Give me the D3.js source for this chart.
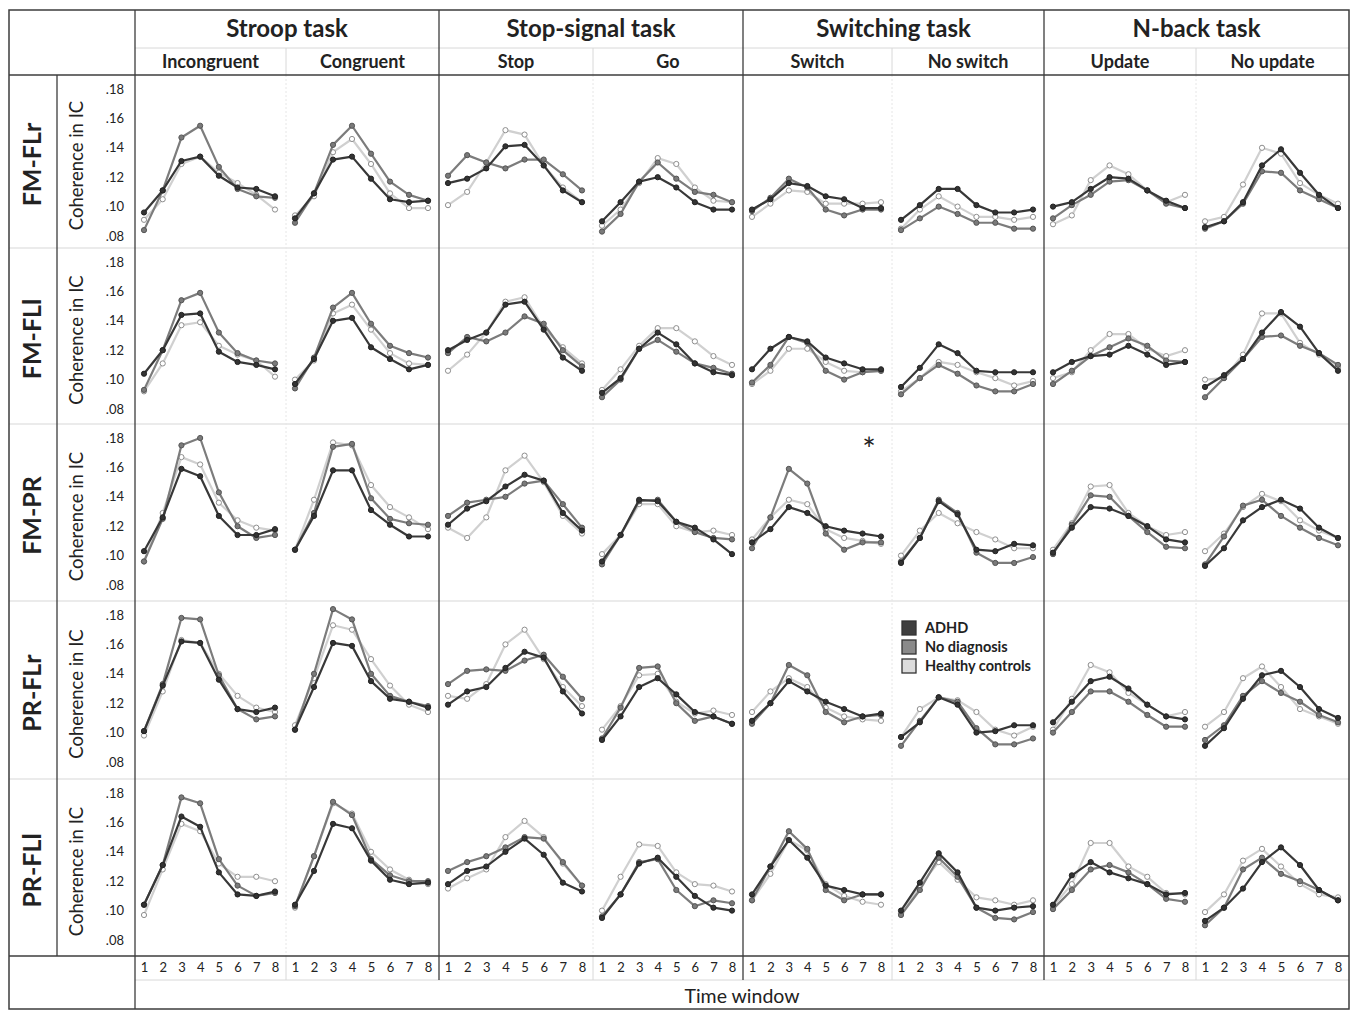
<!DOCTYPE html>
<html>
<head>
<meta charset="utf-8">
<script src="https://cdn.jsdelivr.net/npm/d3@7"></script>
<style>
  body { margin: 0; background: #fff; }
  text { font-family: Lato, "Noto Sans", sans-serif; fill: #222; }
</style>
</head>
<body>
<svg id="chart"></svg>
<script>
// labels
var tasks = ["Stroop task", "Stop-signal task", "Switching task", "N-back task"];
var conditions = ["Incongruent", "Congruent", "Stop", "Go", "Switch", "No switch", "Update", "No update"];
var connections = ["FM-FLr", "FM-FLl", "FM-PR", "PR-FLr", "PR-FLl"];
var groups = ["ADHD", "No diagnosis", "Healthy controls"];
var timeWindows = [1, 2, 3, 4, 5, 6, 7, 8];
var yTicks = [0.08, 0.10, 0.12, 0.14, 0.16, 0.18];

// coherence values, one array per condition (8 time windows)
var adhdFMFLr = [
  [.096,.111,.131,.134,.121,.113,.112,.107],[.092,.109,.132,.134,.119,.105,.103,.104],
  [.116,.119,.126,.141,.142,.128,.111,.103],[.090,.103,.117,.120,.113,.103,.098,.098],
  [.098,.105,.116,.114,.107,.105,.099,.099],[.091,.101,.112,.112,.101,.096,.096,.098],
  [.100,.103,.112,.120,.119,.111,.104,.099],[.086,.090,.103,.128,.139,.123,.108,.099]];
var ndFMFLr = [
  [.084,.111,.147,.155,.127,.112,.107,.106],[.089,.109,.142,.155,.136,.117,.108,.104],
  [.121,.135,.130,.126,.132,.132,.122,.111],[.083,.095,.117,.130,.119,.110,.108,.103],
  [.097,.106,.119,.113,.098,.094,.098,.098],[.084,.092,.100,.095,.089,.089,.085,.085],
  [.092,.101,.108,.117,.118,.111,.102,.099],[.085,.090,.102,.124,.123,.111,.105,.099]];
var hcFMFLr = [
  [.091,.105,.129,.134,.123,.116,.108,.098],[.094,.107,.137,.146,.129,.109,.099,.099],
  [.101,.110,.130,.152,.149,.128,.113,.103],[.087,.098,.116,.133,.129,.113,.104,.103],
  [.093,.102,.111,.110,.102,.102,.102,.103],[.085,.098,.107,.100,.093,.093,.091,.093],
  [.088,.094,.118,.128,.122,.111,.103,.108],[.090,.093,.115,.140,.136,.116,.108,.102]];

var adhdFMFLl = [
  [.104,.120,.144,.145,.119,.112,.110,.107],[.097,.114,.140,.142,.122,.114,.107,.110],
  [.120,.127,.132,.151,.153,.134,.115,.106],[.091,.101,.121,.132,.124,.111,.105,.103],
  [.107,.121,.129,.126,.115,.111,.107,.107],[.095,.108,.124,.118,.106,.105,.105,.105],
  [.105,.112,.116,.117,.123,.117,.110,.112],[.095,.103,.114,.132,.146,.136,.118,.106]];
var ndFMFLl = [
  [.093,.120,.154,.159,.132,.118,.113,.111],[.094,.115,.149,.159,.138,.123,.118,.115],
  [.118,.129,.126,.132,.143,.138,.120,.109],[.088,.100,.121,.127,.119,.111,.108,.104],
  [.098,.110,.129,.125,.106,.100,.105,.106],[.090,.101,.110,.104,.096,.092,.092,.097],
  [.097,.106,.116,.122,.128,.123,.113,.112],[.088,.101,.114,.129,.130,.123,.118,.110]];
var hcFMFLl = [
  [.092,.111,.137,.139,.123,.117,.113,.102],[.100,.113,.145,.151,.134,.118,.111,.110],
  [.106,.117,.132,.153,.156,.135,.122,.111],[.093,.107,.123,.135,.135,.126,.116,.110],
  [.097,.106,.121,.121,.112,.106,.105,.106],[.092,.101,.112,.110,.105,.101,.096,.099],
  [.101,.105,.120,.131,.131,.121,.116,.120],[.100,.101,.117,.145,.145,.125,.117,.108]];

var adhdFMPR = [
  [.103,.126,.159,.154,.127,.114,.114,.118],[.104,.127,.158,.158,.131,.121,.113,.113],
  [.121,.132,.137,.147,.155,.151,.129,.117],[.096,.114,.138,.137,.123,.119,.111,.101],
  [.109,.118,.133,.129,.120,.117,.115,.113],[.095,.112,.137,.128,.104,.103,.108,.107],
  [.102,.119,.133,.132,.127,.120,.111,.109],[.093,.105,.124,.133,.138,.132,.119,.112]];
var ndFMPR = [
  [.096,.125,.175,.180,.143,.120,.112,.114],[.104,.129,.174,.176,.139,.125,.122,.121],
  [.127,.136,.138,.140,.149,.151,.135,.119],[.094,.114,.137,.138,.123,.116,.112,.111],
  [.105,.126,.159,.149,.115,.104,.109,.109],[.096,.112,.138,.129,.102,.095,.095,.099],
  [.101,.121,.141,.140,.127,.116,.106,.105],[.094,.113,.134,.138,.127,.119,.112,.107]];
var hcFMPR = [
  [.096,.129,.167,.162,.136,.124,.119,.117],[.104,.138,.177,.175,.148,.133,.126,.118],
  [.119,.112,.126,.158,.168,.150,.127,.115],[.101,.114,.135,.135,.120,.116,.117,.114],
  [.111,.126,.138,.135,.118,.112,.110,.108],[.100,.117,.129,.122,.116,.111,.105,.105],
  [.104,.122,.147,.148,.129,.120,.114,.116],[.103,.115,.133,.142,.137,.124,.117,.112]];

var adhdPRFLr = [
  [.101,.132,.162,.161,.136,.116,.114,.117],[.102,.131,.161,.159,.135,.123,.121,.117],
  [.119,.128,.131,.144,.155,.151,.128,.113],[.095,.111,.131,.137,.126,.114,.111,.106],
  [.108,.120,.135,.128,.121,.116,.111,.113],[.097,.107,.124,.119,.100,.101,.105,.105],
  [.107,.121,.135,.138,.130,.119,.111,.109],[.091,.103,.123,.139,.142,.131,.116,.110]];
var ndPRFLr = [
  [.101,.133,.178,.177,.139,.116,.109,.111],[.102,.140,.184,.177,.140,.125,.121,.118],
  [.133,.142,.143,.142,.149,.153,.138,.123],[.096,.117,.144,.145,.120,.108,.111,.106],
  [.106,.120,.146,.139,.114,.107,.111,.112],[.091,.108,.124,.121,.103,.092,.092,.096],
  [.100,.114,.128,.128,.121,.112,.104,.104],[.095,.105,.125,.135,.127,.121,.112,.107]];
var hcPRFLr = [
  [.098,.128,.163,.161,.140,.125,.117,.114],[.105,.137,.173,.170,.150,.132,.119,.114],
  [.125,.123,.133,.160,.170,.150,.131,.118],[.102,.118,.139,.140,.121,.113,.115,.112],
  [.114,.128,.137,.131,.117,.111,.109,.108],[.097,.116,.124,.122,.114,.102,.098,.104],
  [.102,.123,.146,.141,.127,.119,.111,.114],[.104,.114,.137,.145,.131,.116,.111,.106]];

var adhdPRFLl = [
  [.104,.131,.164,.157,.126,.111,.110,.113],[.104,.127,.159,.156,.134,.121,.118,.119],
  [.118,.127,.130,.140,.149,.138,.119,.113],[.095,.111,.132,.136,.123,.110,.102,.100],
  [.111,.130,.148,.136,.117,.114,.111,.111],[.100,.119,.139,.126,.102,.100,.102,.103],
  [.104,.124,.133,.126,.122,.118,.111,.112],[.093,.102,.115,.133,.143,.131,.114,.107]];
var ndPRFLl = [
  [.104,.131,.177,.173,.135,.117,.110,.112],[.103,.137,.174,.165,.135,.124,.120,.120],
  [.127,.133,.137,.143,.150,.149,.133,.117],[.096,.111,.133,.135,.114,.103,.107,.105],
  [.107,.130,.154,.142,.114,.107,.111,.111],[.097,.114,.136,.123,.102,.095,.094,.099],
  [.101,.114,.128,.131,.126,.118,.108,.106],[.090,.102,.128,.136,.125,.120,.114,.107]];
var hcPRFLl = [
  [.097,.128,.159,.154,.132,.123,.123,.120],[.102,.137,.173,.166,.140,.128,.121,.118],
  [.115,.122,.128,.150,.161,.150,.132,.117],[.100,.123,.145,.144,.126,.118,.117,.113],
  [.107,.125,.148,.141,.118,.110,.106,.104],[.098,.117,.133,.121,.109,.107,.104,.107],
  [.103,.118,.146,.146,.130,.123,.112,.111],[.099,.111,.134,.142,.130,.118,.111,.109]];

var adhdRows = [adhdFMFLr, adhdFMFLl, adhdFMPR, adhdPRFLr, adhdPRFLl];
var ndRows = [ndFMFLr, ndFMFLl, ndFMPR, ndPRFLr, ndPRFLl];
var hcRows = [hcFMFLr, hcFMFLl, hcFMPR, hcPRFLr, hcPRFLl];

// layout
var svgWidth = 1351, svgHeight = 1011;
var frame = {left: 9, right: 1349, top: 10, bottom: 1009};
var plotLeft = 135;
var panelEdges = [135, 286, 439, 593, 743, 892, 1044, 1196, 1349];
var rowEdges = [75, 248, 424, 601, 779, 956];

var svg = d3.select('#chart')
  .attr('width', svgWidth)
  .attr('height', svgHeight);

var gridDark = '#3c3c3c', gridLight = '#d8d8d8';

function hline(y, x1, x2, color, w) {
  svg.append('line').attr('x1', x1).attr('x2', x2).attr('y1', y).attr('y2', y)
    .attr('stroke', color).attr('stroke-width', w || 1);
}
function vline(x, y1, y2, color, w, dash) {
  svg.append('line').attr('x1', x).attr('x2', x).attr('y1', y1).attr('y2', y2)
    .attr('stroke', color).attr('stroke-width', w || 1)
    .attr('stroke-dasharray', dash || null);
}

// table grid
rowEdges.slice(1, 5).forEach(function(y) { hline(y, frame.left, frame.right, gridLight, 1.2); });
hline(48, plotLeft, frame.right, gridLight, 1);
hline(980, plotLeft, frame.right, gridLight, 1);
[286, 593, 892, 1196].forEach(function(x) {
  vline(x, 48, 75, gridLight, 1);
  vline(x, 75, 956, '#e6e6e6', 1, '2,2');
  vline(x, 956, 980, gridLight, 1);
});
[439, 743, 1044].forEach(function(x) { vline(x, frame.top, 980, gridDark, 1.3); });
vline(57, 75, 956, gridDark, 1.3);
vline(plotLeft, frame.top, frame.bottom, gridDark, 1.3);
hline(75, frame.left, frame.right, gridDark, 1.5);
hline(956, frame.left, frame.right, gridDark, 1.5);
svg.append('rect')
  .attr('x', frame.left).attr('y', frame.top)
  .attr('width', frame.right - frame.left).attr('height', frame.bottom - frame.top)
  .attr('fill', 'none').attr('stroke', gridDark).attr('stroke-width', 1.5);

// headers
tasks.forEach(function(t, i) {
  svg.append('text')
    .attr('x', (panelEdges[i * 2] + panelEdges[i * 2 + 2]) / 2)
    .attr('y', 37)
    .attr('text-anchor', 'middle')
    .style('font-size', '24px')
    .style('font-weight', 'bold')
    .text(t);
});
conditions.forEach(function(c, i) {
  svg.append('text')
    .attr('x', (panelEdges[i] + panelEdges[i + 1]) / 2)
    .attr('y', 68)
    .attr('text-anchor', 'middle')
    .style('font-size', '18px')
    .style('font-weight', 'bold')
    .text(c);
});

var series = [
  {rows: hcRows, line: '#d0d0d0', fill: '#ffffff', stroke: '#8e8e8e'},
  {rows: ndRows, line: '#7c7c7c', fill: '#7a7a7a', stroke: '#555555'},
  {rows: adhdRows, line: '#383838', fill: '#333333', stroke: '#222222'}
];

connections.forEach(function(conn, r) {
  var top = rowEdges[r], bottom = rowEdges[r + 1];
  var mid = (top + bottom) / 2;

  var yScale = d3.scaleLinear()
    .domain([0.08, 0.18])
    .range([top + 161, top + 14]);

  svg.append('text')
    .attr('transform', 'translate(41,' + (mid + 3) + ') rotate(-90)')
    .attr('text-anchor', 'middle')
    .style('font-size', '25px')
    .style('font-weight', 'bold')
    .text(conn);

  svg.append('text')
    .attr('transform', 'translate(83,' + (mid + 4) + ') rotate(-90)')
    .attr('text-anchor', 'middle')
    .style('font-size', '18.5px')
    .text('Coherence in IC');

  var leftAxis = d3.axisLeft(yScale)
    .tickValues(yTicks)
    .tickSize(0)
    .tickPadding(0)
    .tickFormat(function(d) { return d3.format('.2f')(d).replace('0.', '.'); });
  var ya = svg.append('g')
    .attr('transform', 'translate(124,0)')
    .call(leftAxis);
  ya.select('.domain').remove();
  ya.selectAll('text').style('font-size', '13px').attr('fill', '#333');

  conditions.forEach(function(c, p) {
    var xScale = d3.scaleLinear()
      .domain([1, 8])
      .range([panelEdges[p] + 9, panelEdges[p + 1] - 11]);

    var line = d3.line()
      .x(function(d, i) { return xScale(timeWindows[i]); })
      .y(function(d) { return yScale(d); });

    series.forEach(function(s) {
      var vals = s.rows[r][p];
      svg.append('path')
        .datum(vals)
        .attr('d', line)
        .attr('fill', 'none')
        .attr('stroke', s.line)
        .attr('stroke-width', 2.2)
        .attr('stroke-linejoin', 'round');
      svg.append('g').selectAll('circle')
        .data(vals)
        .enter()
        .append('circle')
        .attr('cx', function(d, i) { return xScale(timeWindows[i]); })
        .attr('cy', function(d) { return yScale(d); })
        .attr('r', 2.6)
        .attr('fill', s.fill)
        .attr('stroke', s.stroke)
        .attr('stroke-width', 1);
    });

    // x ticks only once, below the last row
    if (r === connections.length - 1) {
      var bottomAxis = d3.axisBottom(xScale)
        .tickValues(timeWindows)
        .tickSize(0)
        .tickPadding(0)
        .tickFormat(d3.format('d'));
      var xa = svg.append('g')
        .attr('transform', 'translate(0,963)')
        .call(bottomAxis);
      xa.select('.domain').remove();
      xa.selectAll('text').style('font-size', '13px').attr('fill', '#333');
    }
  });
});

// significance mark
svg.append('text')
  .attr('x', 869)
  .attr('y', 461)
  .attr('text-anchor', 'middle')
  .style('font-size', '32px')
  .text('*');

// x axis title
svg.append('text')
  .attr('x', (plotLeft + frame.right) / 2)
  .attr('y', 1003)
  .attr('text-anchor', 'middle')
  .style('font-size', '19.5px')
  .text('Time window');

// legend
var legendFills = ['#3f3f3f', '#8a8a8a', '#dcdcdc'];
var legend = svg.append('g').attr('transform', 'translate(902,621)');
groups.forEach(function(g, i) {
  legend.append('rect')
    .attr('x', 0).attr('y', i * 19)
    .attr('width', 14).attr('height', 14)
    .attr('fill', legendFills[i])
    .attr('stroke', '#333').attr('stroke-width', 1.3);
  legend.append('text')
    .attr('x', 23).attr('y', i * 19 + 12)
    .style('font-size', '14.5px')
    .style('font-weight', 'bold')
    .text(g);
});
</script>
</body>
</html>
